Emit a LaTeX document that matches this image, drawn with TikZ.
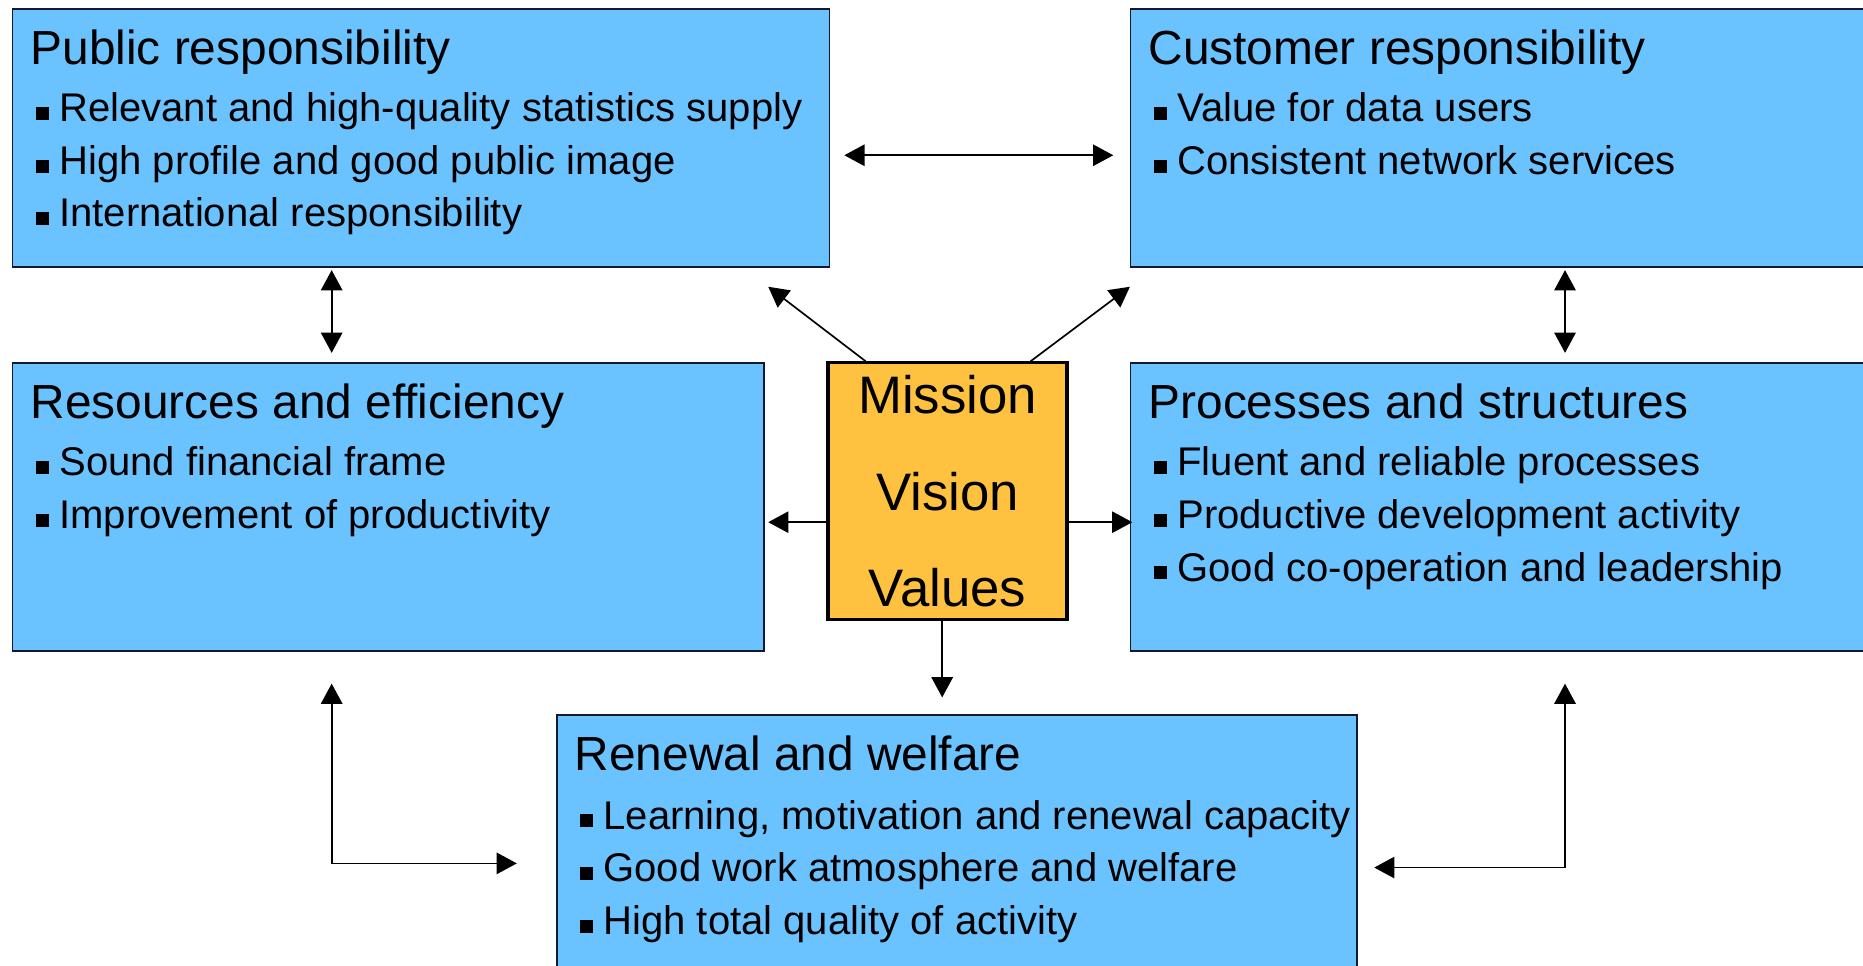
\documentclass[tikz,border=0pt]{standalone}
\usepackage{fontspec}
\setmainfont{Liberation Sans}
\usepackage{tikz}
\usetikzlibrary{arrows.meta}
\definecolor{boxblue}{RGB}{106,194,255}
\definecolor{boxorange}{RGB}{255,193,64}
\definecolor{boxline}{RGB}{20,24,48}
\newcommand{\hd}[1]{{\fontsize{11.45}{13.7}\selectfont\rule{0pt}{9pt}#1}}
\newcommand{\itm}{\hspace{1.2pt}\rule[0.43pt]{3.1pt}{3.1pt}\hspace{2.6pt}}

\begin{document}
\begin{tikzpicture}[x=0.01cm,y=-0.01cm,
	box/.style={draw=boxline,line width=0.35pt,fill=boxblue,anchor=north west,inner sep=0pt},
	boxtxt/.style={anchor=north west,inner sep=0pt,align=left,font=\fontsize{9.58}{12.6}\selectfont},
	arr/.style={line width=0.4pt,-{Triangle[length=0.17cm,width=0.18cm]}},
	biarr/.style={line width=0.4pt,{Triangle[length=0.17cm,width=0.18cm]}-{Triangle[length=0.17cm,width=0.18cm]}}]
	\clip (0,0) rectangle (1568,813);
	\node[box,minimum width=6.87cm,minimum height=2.17cm] (pub) at (10,7) {};
	\node[box,minimum width=6.29cm,minimum height=2.17cm] (cust) at (951,7) {};
	\node[box,minimum width=6.32cm,minimum height=2.42cm] (res) at (10,305) {};
	\node[box,minimum width=6.29cm,minimum height=2.42cm] (proc) at (951,305) {};
	\node[box,minimum width=6.73cm,minimum height=2.50cm] (ren) at (468,601) {};
	\node[draw=black,line width=0.75pt,fill=boxorange,minimum width=2.01cm,minimum height=2.16cm,inner sep=0pt,
		align=center,font=\fontsize{12.63}{23.05}\selectfont] (mvv) at (797.5,413.5) {Mission\\Vision\\Values};
	
	\node[boxtxt] (pubtxt) at ([shift={(0.15cm,-0.15cm)}]pub.north west) {\hd{Public responsibility}\\[1.06pt]
		\itm Relevant and high-quality statistics supply\\
		\itm High profile and good public image\\
		\itm International responsibility};
	\node[boxtxt] (custtxt) at ([shift={(0.15cm,-0.15cm)}]cust.north west) {\hd{Customer responsibility}\\[1.06pt]
		\itm Value for data users\\
		\itm Consistent network services};
	\node[boxtxt] (restxt) at ([shift={(0.15cm,-0.15cm)}]res.north west) {\hd{Resources and efficiency}\\[1.06pt]
		\itm Sound financial frame\\
		\itm Improvement of productivity};
	\node[boxtxt] (proctxt) at ([shift={(0.15cm,-0.15cm)}]proc.north west) {\hd{Processes and structures}\\[1.06pt]
		\itm Fluent and reliable processes\\
		\itm Productive development activity\\
		\itm Good co-operation and leadership};
	\node[boxtxt] (rentxt) at ([shift={(0.15cm,-0.15cm)}]ren.north west) {\hd{Renewal and welfare}\\[1.5pt]
		\itm Learning, motivation and renewal capacity\\
		\itm Good work atmosphere and welfare\\
		\itm High total quality of activity};
	
	\draw[biarr,shorten <=0.12cm,shorten >=0.14cm] ([yshift=-0.145cm]pub.east) -- ([yshift=-0.145cm]pub.east -| cust.west);
	\draw[biarr,shorten <=0.02cm,shorten >=0.08cm] ([xshift=2.69cm]pub.south west) -- ([xshift=2.69cm]res.north west);
	\draw[biarr,shorten <=0.02cm,shorten >=0.08cm] ([xshift=3.66cm]cust.south west) -- ([xshift=3.66cm]proc.north west);
	\draw[arr] ([xshift=0.33cm]mvv.north west) -- ([shift={(-0.52cm,-0.16cm)}]pub.south east);
	\draw[arr] ([xshift=-0.32cm]mvv.north east) -- ([yshift=-0.16cm]cust.south west);
	\draw[arr,shorten >=0.03cm] ([yshift=-0.26cm]mvv.west) -- ([yshift=-0.26cm]mvv.west -| res.east);
	\draw[arr,shorten >=-0.02cm] ([yshift=-0.26cm]mvv.east) -- ([yshift=-0.26cm]mvv.east -| proc.west);
	\draw[arr,shorten >=0.14cm] ([xshift=-0.045cm]mvv.south) -- ([xshift=-0.045cm]mvv.south |- ren.north);
	\draw[biarr,shorten <=0.27cm,shorten >=0.33cm] ([xshift=2.69cm]res.south west) |- (ren.west);
	\draw[biarr,shorten <=0.27cm,shorten >=0.14cm] ([xshift=3.66cm]proc.south west) |- ([yshift=-0.035cm]ren.east);
\end{tikzpicture}
\end{document}
